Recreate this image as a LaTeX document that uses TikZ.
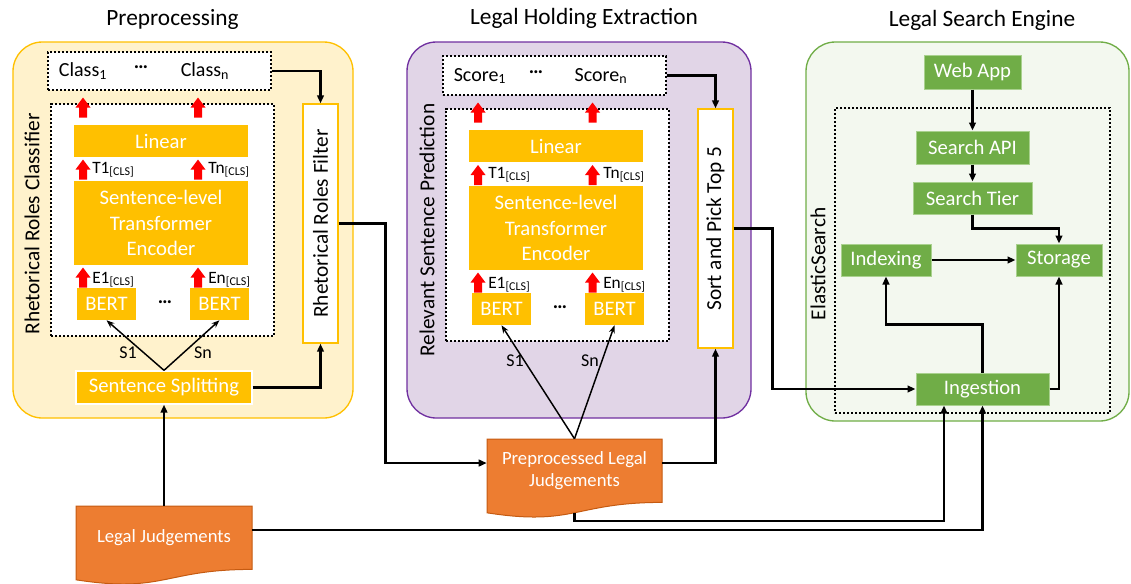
\documentclass[tikz,border=0pt]{standalone}
\usepackage{fontspec}
\setmainfont{Carlito}
\usepackage{tikz}
\usetikzlibrary{arrows.meta}
\definecolor{amber}{HTML}{FFC000}
\definecolor{cream}{HTML}{FFF2CC}
\definecolor{lilac}{HTML}{E1D5E7}
\definecolor{plum}{HTML}{7030A0}
\definecolor{mint}{HTML}{F3F8EF}
\definecolor{leaf}{HTML}{70AD47}
\definecolor{leaflight}{HTML}{A9D18E}
\definecolor{docorange}{HTML}{ED7D31}
\definecolor{docedge}{HTML}{C55A11}

\begin{document}
\begin{tikzpicture}[x=0.75pt,y=0.75pt,yscale=-1,xscale=1,
  panel/.style={rounded corners=22pt, line width=1pt},
  dotbox/.style={draw, dash pattern=on 1.6pt off 1.4pt, line width=1.7pt, fill=white, inner sep=0pt},
  ambox/.style={fill=amber, text=white, inner sep=0pt, align=center, font=\fontsize{15.5}{19}\selectfont},
  grbox/.style={fill=leaf, draw=leaflight, line width=0.75pt, text=white, inner sep=0pt, font=\fontsize{15.5}{19}\selectfont},
  whbox/.style={fill=white, draw=amber, line width=1pt, inner sep=0pt},
  vlabel/.style={rotate=90, inner sep=0pt, font=\fontsize{16}{19}\selectfont},
  headtxt/.style={inner sep=0pt, font=\fontsize{17.5}{21}\selectfont},
  lbl/.style={inner sep=0pt, font=\fontsize{15}{18}\selectfont},
  dotlbl/.style={inner sep=0pt, font=\fontsize{15}{18}\bfseries},
  tlbl/.style={anchor=base west, inner sep=0pt, font=\fontsize{13}{15}\selectfont},
  slbl/.style={inner sep=0pt, font=\fontsize{13.5}{15}\selectfont},
  doc/.style={fill=docorange, draw=docedge, line width=0.75pt},
  doctext/.style={text=white, align=center, inner sep=0pt, font=\fontsize{14}{16.5}\selectfont},
  conn/.style={-{Triangle[length=6pt,width=5pt]}, line width=1.8pt},
  sline/.style={-{Stealth[length=6pt,width=4.5pt]}, line width=1.1pt}]
\useasboundingbox (0,0) rectangle (1131,583);

%Shape: Rounded Rect [panels]
\draw[panel, fill=cream, draw=amber] (13,42) rectangle (353,418);
\draw[panel, fill=lilac, draw=plum] (407,42) rectangle (751,418);
\draw[panel, fill=mint, draw=leaf] (806,42) rectangle (1129,421);

%Titles
\node[headtxt] (pretitle) at (172.5,19) {Preprocessing};
\node[headtxt] (lhetitle) at (584,18) {Legal Holding Extraction};
\node[headtxt] (lsetitle) at (982,20) {Legal Search Engine};

%Preprocessing
\node[dotbox, minimum width=167.25pt, minimum height=174pt] (rrcbox) at (162.5,220) {};
\node[dotbox, minimum width=167.25pt, minimum height=28.5pt] (cls) at (159.5,71) {};
\node[lbl] (cls1) at (83,71) {Class\textsubscript{1}};
\node[dotlbl] (clsdots) at (141,70) {\raisebox{0.28em}{\ldots}};
\node[lbl] (clsn) at (205,71) {Class\textsubscript{n}};
\node[ambox, minimum width=130.5pt, minimum height=24pt] (lin1) at (161,141) {Linear};
\node[ambox, minimum width=130.5pt, minimum height=63pt] (enc1) at (161,223) {Sentence-level\\Transformer\\Encoder};
\node[ambox, minimum width=44.25pt, minimum height=24pt] (bert1) at (106.5,304) {BERT};
\node[dotlbl] (bdots1) at (165,305) {\raisebox{0.28em}{\ldots}};
\node[ambox, minimum width=44.25pt, minimum height=24pt] (bert2) at (219.5,304) {BERT};
\node[ambox, draw=white, line width=1pt, minimum width=132pt, minimum height=24.75pt] (split) at (164,387.5) {Sentence Splitting};
\node[whbox, minimum width=26.25pt, minimum height=179.25pt] (filter) at (320.5,223.5) {};
\node[vlabel] (filtertxt) at (320.5,223.5) {Rhetorical Roles Filter};
\node[vlabel] (rrclabel) at (32,224) {Rhetorical Roles Classifier};
\node[tlbl] (t1a) at (92,173) {T1\raisebox{-0.35ex}{\fontsize{9}{9}\selectfont[CLS]}};
\node[tlbl] (tna) at (208,173) {Tn\raisebox{-0.35ex}{\fontsize{9}{9}\selectfont[CLS]}};
\node[tlbl] (e1a) at (92,283) {E1\raisebox{-0.35ex}{\fontsize{9}{9}\selectfont[CLS]}};
\node[tlbl] (ena) at (208,283) {En\raisebox{-0.35ex}{\fontsize{9}{9}\selectfont[CLS]}};
\node[slbl] (s1a) at (128,353) {S1};
\node[slbl] (sna) at (203,353) {Sn};

%Legal Holding Extraction
\node[dotbox, minimum width=167.25pt, minimum height=174pt] (rspbox) at (557.5,225) {};
\node[dotbox, minimum width=167.25pt, minimum height=29.25pt] (score) at (554.5,75.5) {};
\node[lbl] (score1) at (480,76) {Score\textsubscript{1}};
\node[dotlbl] (scoredots) at (536,75) {\raisebox{0.28em}{\ldots}};
\node[lbl] (scoren) at (601,76) {Score\textsubscript{n}};
\node[ambox, minimum width=130.5pt, minimum height=24pt] (lin2) at (556,146) {Linear};
\node[ambox, minimum width=130.5pt, minimum height=63pt] (enc2) at (556,228) {Sentence-level\\Transformer\\Encoder};
\node[ambox, minimum width=44.25pt, minimum height=24pt] (bert3) at (501.5,309) {BERT};
\node[dotlbl] (bdots2) at (560,310) {\raisebox{0.28em}{\ldots}};
\node[ambox, minimum width=44.25pt, minimum height=24pt] (bert4) at (614.5,309) {BERT};
\node[whbox, minimum width=26.25pt, minimum height=179.25pt] (sort) at (715.5,228.5) {};
\node[vlabel] (sorttxt) at (715.5,228.5) {Sort and Pick Top 5};
\node[vlabel] (rsplabel) at (427,230) {Relevant Sentence Prediction};
\node[tlbl] (t1b) at (488,178) {T1\raisebox{-0.35ex}{\fontsize{9}{9}\selectfont[CLS]}};
\node[tlbl] (tnb) at (603,178) {Tn\raisebox{-0.35ex}{\fontsize{9}{9}\selectfont[CLS]}};
\node[tlbl] (e1b) at (488,288) {E1\raisebox{-0.35ex}{\fontsize{9}{9}\selectfont[CLS]}};
\node[tlbl] (enb) at (603,288) {En\raisebox{-0.35ex}{\fontsize{9}{9}\selectfont[CLS]}};
\node[slbl] (s1b) at (515,361) {S1};
\node[slbl] (snb) at (590,361) {Sn};

%Red arrows
\foreach \x/\y in {83/107.5,198/107.5,83/169.5,198/169.5,83/277.5,198/277.5,478/112.5,592.5/112.5,478/175,592.5/175,478/282.5,592.5/282.5}
  \fill[red] ({\x-4},{\y+10}) -- ({\x-4},\y) -- ({\x-7.5},\y) -- (\x,{\y-10}) -- ({\x+7.5},\y) -- ({\x+4},\y) -- ({\x+4},{\y+10}) -- cycle;

%Legal Search Engine
\node[dotbox, fill=none, minimum width=206.25pt, minimum height=228.75pt] (esbox) at (972.5,260.5) {};
\node[vlabel] (eslabel) at (818,264) {ElasticSearch};
\node[grbox, minimum width=72.75pt, minimum height=25.5pt] (webapp) at (972.5,72) {Web App};
\node[grbox, minimum width=84.75pt, minimum height=24.75pt] (searchapi) at (972.5,147.5) {Search API};
\node[grbox, minimum width=89.25pt, minimum height=24pt] (searchtier) at (972.5,198) {Search Tier};
\node[grbox, minimum width=67.5pt, minimum height=24pt] (indexing) at (886,260) {Indexing};
\node[grbox, minimum width=64.5pt, minimum height=24pt] (storage) at (1059,260) {Storage};
\node[grbox, minimum width=99.75pt, minimum height=24pt] (ingestion) at (982.5,389) {Ingestion};

%Shape: Document
\draw[doc] (487,439) -- (662,439) -- (662,502.4) .. controls (574.5,502.4) and (574.5,526.5) .. (487,512.8) -- cycle;
\node[doctext, minimum width=131.25pt, minimum height=47.25pt] (prep) at (574.5,470.5) {Preprocessed Legal\\Judgements};
\coordinate (prepfoot) at (574.5,513);
\draw[doc] (76,506) -- (252,506) -- (252,569.4) .. controls (164,569.4) and (164,593.5) .. (76,579.8) -- cycle;
\node[doctext, minimum width=132pt, minimum height=47.25pt] (legal) at (164,537.5) {Legal Judgements};

%Straight Lines
\draw[conn] (cls.east) -| (filter.north);
\draw[conn] (split.east) -| (filter.south);
\draw[conn] (filter.east) -- ++(47,0) |- ([yshift=-5.6pt]prep.west);
\draw[conn] (legal.north) -- (split.south);
\draw[sline] (split.north) -- (bert1.south);
\draw[sline] (split.north) -- (bert2.south);
\draw[sline] (prep.north) -- (bert3.south);
\draw[sline] (prep.north) -- (bert4.south);
\draw[conn] (score.east) -| (sort.north);
\draw[conn] ([yshift=-5.6pt]prep.east) -| (sort.south);
\draw[conn] (sort.east) -- ++(39,0) |- (ingestion.west);
\draw[conn] (webapp.south) -- (searchapi.north);
\draw[conn] (searchapi.south) -- (searchtier.north);
\draw[conn] (searchtier.south) -- ++(0,14) -| (storage.north);
\draw[conn] (indexing.east) -- (storage.west);
\draw[conn] (ingestion.north) -- ++(0,-48) -| (indexing.south);
\draw[conn] (ingestion.east) -| (storage.south);
\draw[conn] ([yshift=-5.6pt]legal.east) -| (ingestion.south);
\draw[conn] (prepfoot) -- ++(0,8) -| ([xshift=-28.9pt]ingestion.south);

\end{tikzpicture}
\end{document}
